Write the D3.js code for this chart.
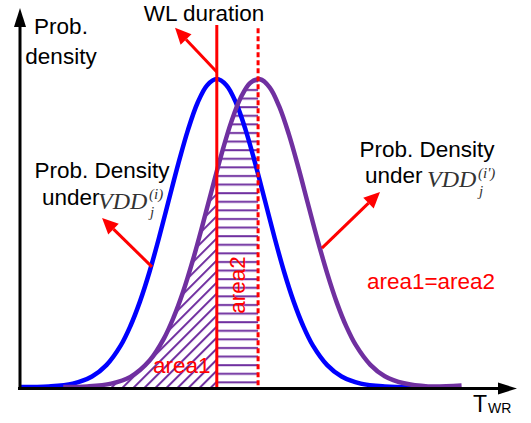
<!DOCTYPE html>
<html lang="en">
<head>
    <meta charset="UTF-8">
    <title>WL duration</title>
    <script src="https://d3js.org/d3.v7.min.js"></script>
    <style>
        body {
            margin: 0;
            background: #fff;
            font-family: "Liberation Sans", Arial, sans-serif;
        }
    </style>
</head>
<body>
    <div id="chart"></div>
    <script>
        // curve under VDD_j^(i) (blue)
        const blueX = [0, 6, 11, 15, 18, 21, 23, 25, 27, 29, 31, 33, 35, 37, 39, 41,
                       43, 45, 47, 49, 51, 53, 55, 57, 59, 61, 64, 67, 71, 76, 82];
        const blueY = [0, 0.002, 0.011, 0.034, 0.071, 0.135, 0.198, 0.278, 0.375, 0.487, 0.607, 0.726, 0.835, 0.923, 0.98, 1.0,
                       0.98, 0.923, 0.835, 0.726, 0.607, 0.487, 0.375, 0.278, 0.198, 0.135, 0.071, 0.034, 0.011, 0.002, 0];

        // curve under VDD_j^(i') (purple)
        const purpleX = [9, 14, 19, 23, 27, 30, 32, 34, 36, 38, 40, 42, 44, 46, 48, 50,
                         52, 54, 56, 58, 60, 62, 64, 66, 68, 70, 73, 76, 80, 85, 92];
        const purpleY = [0, 0.002, 0.011, 0.033, 0.086, 0.158, 0.226, 0.31, 0.411, 0.524, 0.642, 0.757, 0.86, 0.94, 0.988, 0.999,
                         0.973, 0.911, 0.821, 0.712, 0.594, 0.477, 0.369, 0.274, 0.196, 0.135, 0.072, 0.035, 0.012, 0.002, 0.005];

        const wlDuration = 41;      // solid red line
        const shiftedPeak = 49.6;   // dashed red line

        // annotation arrows [fromX, fromY, toX, toY] in data units
        const arrows = [
            [41, 1.023, 32.3, 1.166],
            [27.5, 0.39, 17.1, 0.549],
            [62.9, 0.451, 75, 0.633]
        ];

        const width = 531;
        const height = 423;

        const x = d3.scaleLinear().domain([0, 100]).range([20, 500]);
        const y = d3.scaleLinear().domain([0, 1]).range([387, 79]);

        const svg = d3.select('#chart')
            .append('svg')
            .attr('width', width)
            .attr('height', height);

        const defs = svg.append('defs');

        const purple = '#7030a0';
        const red = '#ff0000';

        // diagonal hatch
        defs.append('pattern')
            .attr('id', 'diag')
            .attr('patternUnits', 'userSpaceOnUse')
            .attr('width', 7.8)
            .attr('height', 7.8)
            .attr('patternTransform', 'rotate(45)')
            .append('line')
            .attr('x1', 2).attr('y1', -1)
            .attr('x2', 2).attr('y2', 9)
            .attr('stroke', purple)
            .attr('stroke-width', 2);

        // horizontal hatch
        defs.append('pattern')
            .attr('id', 'horiz')
            .attr('patternUnits', 'userSpaceOnUse')
            .attr('width', 10)
            .attr('height', 8.6)
            .append('line')
            .attr('x1', -1).attr('y1', 4)
            .attr('x2', 11).attr('y2', 4)
            .attr('stroke', purple)
            .attr('stroke-width', 2);

        defs.append('clipPath').attr('id', 'clip-left')
            .append('rect')
            .attr('x', x(0)).attr('y', 0)
            .attr('width', x(wlDuration) - x(0)).attr('height', y(0));

        defs.append('clipPath').attr('id', 'clip-mid')
            .append('rect')
            .attr('x', x(wlDuration)).attr('y', 0)
            .attr('width', x(shiftedPeak) - x(wlDuration)).attr('height', y(0));

        const blueData = blueX.map((d, i) => ({ x: d, y: blueY[i] }));
        const purpleData = purpleX.map((d, i) => ({ x: d, y: purpleY[i] }));

        const line = d3.line()
            .x(d => x(d.x))
            .y(d => y(d.y))
            .curve(d3.curveCatmullRom);

        const area = d3.area()
            .x(d => x(d.x))
            .y0(y(0))
            .y1(d => y(d.y))
            .curve(d3.curveCatmullRom);

        // hatched areas
        svg.append('path')
            .datum(purpleData)
            .attr('d', area)
            .attr('fill', 'url(#diag)')
            .attr('clip-path', 'url(#clip-left)');

        svg.append('path')
            .datum(purpleData)
            .attr('d', area)
            .attr('fill', 'url(#horiz)')
            .attr('clip-path', 'url(#clip-mid)');

        // curves
        svg.append('path')
            .datum(blueData)
            .attr('d', line)
            .attr('fill', 'none')
            .attr('stroke', '#0000ff')
            .attr('stroke-width', 4.5);

        svg.append('path')
            .datum(purpleData)
            .attr('d', line)
            .attr('fill', 'none')
            .attr('stroke', purple)
            .attr('stroke-width', 4.5);

        // red vertical lines
        svg.append('line')
            .attr('x1', x(wlDuration)).attr('x2', x(wlDuration))
            .attr('y1', y(1.175)).attr('y2', y(0) + 1)
            .attr('stroke', red)
            .attr('stroke-width', 3);

        svg.append('line')
            .attr('x1', x(shiftedPeak)).attr('x2', x(shiftedPeak))
            .attr('y1', y(1.165)).attr('y2', y(0) + 1)
            .attr('stroke', red)
            .attr('stroke-width', 3)
            .attr('stroke-dasharray', '5,3');

        // arrow helper: shaft plus filled head
        function arrow(x1, y1, x2, y2, color, sw, headLen, headW) {
            const a = Math.atan2(y2 - y1, x2 - x1);
            const bx = x2 - headLen * Math.cos(a);
            const by = y2 - headLen * Math.sin(a);
            svg.append('line')
                .attr('x1', x1).attr('y1', y1)
                .attr('x2', bx).attr('y2', by)
                .attr('stroke', color)
                .attr('stroke-width', sw);
            const px = -Math.sin(a) * headW / 2;
            const py = Math.cos(a) * headW / 2;
            svg.append('path')
                .attr('d', `M${x2},${y2}L${bx + px},${by + py}L${bx - px},${by - py}Z`)
                .attr('fill', color);
        }

        // axes
        arrow(x(0), y(0) + 1.5, x(0), 8, '#000', 3, 19, 12);
        arrow(x(0) - 2, y(0) + 1.5, 517, y(0) + 1.5, '#000', 3, 19, 12);

        arrows.forEach(d => {
            arrow(x(d[0]), y(d[1]), x(d[2]), y(d[3]), red, 3, 16, 15);
        });

        // labels
        const label = (tx, ty, str, opts = {}) => svg.append('text')
            .attr('x', tx)
            .attr('y', ty)
            .attr('font-size', opts.size || 22.5)
            .attr('font-family', opts.serif ? '"Liberation Serif", "Times New Roman", serif' : '"Liberation Sans", Arial, sans-serif')
            .attr('font-style', opts.serif ? 'italic' : 'normal')
            .attr('fill', opts.color || '#000')
            .attr('text-anchor', opts.anchor || 'start')
            .text(str);

        label(61, 34, 'Prob.', { anchor: 'middle' });
        label(61, 64, 'density', { anchor: 'middle' });
        label(204, 21, 'WL duration', { anchor: 'middle' });

        label(102, 178, 'Prob. Density', { anchor: 'middle' });
        label(42, 205, 'under');
        label(98, 209, 'VDD', { serif: true, size: 24, color: '#333' });
        label(149, 199, '(i)', { serif: true, size: 15, color: '#333' });
        label(150, 217, 'j', { serif: true, size: 15, color: '#333' });

        label(427, 157, 'Prob. Density', { anchor: 'middle' });
        label(365, 183, 'under');
        label(427, 187, 'VDD', { serif: true, size: 24, color: '#333' });
        label(478, 178, "(i')", { serif: true, size: 15, color: '#333' });
        label(479, 196, 'j', { serif: true, size: 15, color: '#333' });

        label(431, 289, 'area1=area2', { anchor: 'middle', color: red });
        label(153, 373, 'area1', { color: red });

        svg.append('text')
            .attr('transform', `translate(${(x(wlDuration) + x(shiftedPeak)) / 2 + 8},285) rotate(-90)`)
            .attr('text-anchor', 'middle')
            .attr('font-size', 22.5)
            .attr('fill', red)
            .text('area2');

        label(473, 412, 'T', { size: 23 });
        label(488, 413, 'WR', { size: 14 });
    </script>
</body>
</html>
